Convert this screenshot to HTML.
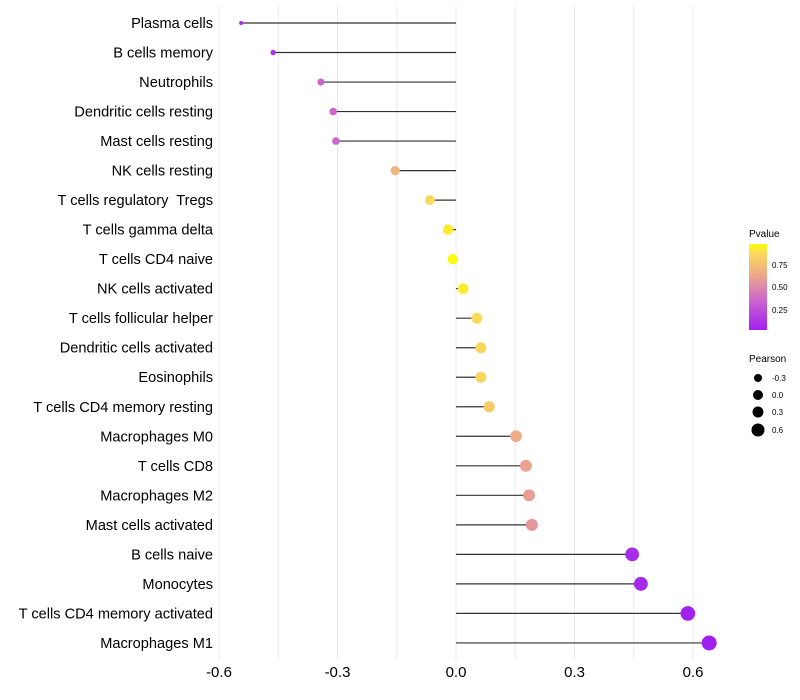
<!DOCTYPE html>
<html><head><meta charset="utf-8"><style>
body{margin:0;background:#fff;}
svg{display:block;font-family:"Liberation Sans",sans-serif;}
</style></head><body>
<svg id="chart" width="800" height="700" viewBox="0 0 800 700">
<defs>
<linearGradient id="pgrad" x1="0" y1="1" x2="0" y2="0">
<stop offset="0" stop-color="#a020f0"/><stop offset="0.35" stop-color="#cc66cc"/><stop offset="0.65" stop-color="#eeaa88"/><stop offset="0.9" stop-color="#fada5a"/><stop offset="1" stop-color="#ffff00"/>
</linearGradient>
</defs>
<g id="grid"></g>
<g id="marks"></g>
<g id="ylabels"></g>
<g id="xlabels"></g>
<g>
<text x="749" y="237" font-size="10" fill="#000">Pvalue</text>
<rect x="749" y="244" width="18" height="86" fill="url(#pgrad)"/>
<text x="772" y="268" font-size="8">0.75</text>
<text x="772" y="290" font-size="8">0.50</text>
<text x="772" y="313" font-size="8">0.25</text>
</g>
<g>
<text x="749" y="362" font-size="10">Pearson</text>
<circle cx="758" cy="378" r="4"/>
<circle cx="758" cy="395" r="5"/>
<circle cx="758" cy="412" r="5.5"/>
<circle cx="758" cy="430" r="6.5"/>
<text x="772" y="381" font-size="8">-0.3</text>
<text x="772" y="398" font-size="8">0.0</text>
<text x="772" y="415" font-size="8">0.3</text>
<text x="772" y="433" font-size="8">0.6</text>
</g>
</svg>
<script>
const categories=["Plasma cells","B cells memory","Neutrophils","Dendritic cells resting","Mast cells resting","NK cells resting","T cells regulatory  Tregs","T cells gamma delta","T cells CD4 naive","NK cells activated","T cells follicular helper","Dendritic cells activated","Eosinophils","T cells CD4 memory resting","Macrophages M0","T cells CD8","Macrophages M2","Mast cells activated","B cells naive","Monocytes","T cells CD4 memory activated","Macrophages M1"];
const pearson=[-0.544,-0.463,-0.342,-0.311,-0.304,-0.154,-0.066,-0.02,-0.008,0.018,0.053,0.063,0.063,0.084,0.152,0.177,0.185,0.192,0.446,0.468,0.587,0.641];
const pvalue=[0.05,0.1,0.35,0.35,0.35,0.7,0.9,0.95,0.98,0.95,0.9,0.88,0.88,0.82,0.66,0.62,0.6,0.56,0.06,0.05,0.01,0.0];
const xTicks=[-0.6,-0.3,0.0,0.3,0.6];
const xTickLabels=["-0.6","-0.3","0.0","0.3","0.6"];
const NS="http://www.w3.org/2000/svg";
const xs=v=>456+v*395;
const ys=i=>23+i*29.52;
const rs=v=>Math.sqrt(Math.max(2,4+(v+0.54)*44));
const stops=[[0,[160,32,240]],[0.35,[204,102,204]],[0.65,[238,170,136]],[0.9,[250,218,90]],[1,[255,255,0]]];
function col(p){for(let k=1;k<stops.length;k++){if(p<=stops[k][0]){const a=stops[k-1],b=stops[k];const t=(p-a[0])/(b[0]-a[0]);return "rgb("+a[1].map((c,j)=>Math.round(c+(b[1][j]-c)*t)).join(",")+")";}}return "rgb(255,255,0)";}
function mk(tag,attrs,parent){const e=document.createElementNS(NS,tag);for(const k in attrs)e.setAttribute(k,attrs[k]);parent.appendChild(e);return e;}
const grid=document.getElementById('grid'),marks=document.getElementById('marks'),yl=document.getElementById('ylabels'),xl=document.getElementById('xlabels');
for(let t=-0.6;t<=0.651;t+=0.15){const g=mk('line',{x1:xs(t),x2:xs(t),y1:5,y2:660,stroke:'#ebebeb','stroke-width':1},grid);

}
xTicks.forEach((t,i)=>{const e=mk('text',{x:xs(t),y:677,'font-size':15,'text-anchor':'middle',fill:'#000'},xl);e.textContent=xTickLabels[i];

});
categories.forEach((c,i)=>{const y=ys(i);
const l=mk('line',{x1:xs(0),x2:xs(pearson[i]),y1:y,y2:y,stroke:'#333','stroke-width':1.2},marks);


const d=mk('circle',{cx:xs(pearson[i]),cy:y,r:rs(pearson[i]),fill:col(pvalue[i])},marks);


const t=mk('text',{x:213,y:y+5,'font-size':14.6,'text-anchor':'end',fill:'#000'},yl);t.textContent=c;t.style.whiteSpace='pre';

});
</script>
</body></html>
